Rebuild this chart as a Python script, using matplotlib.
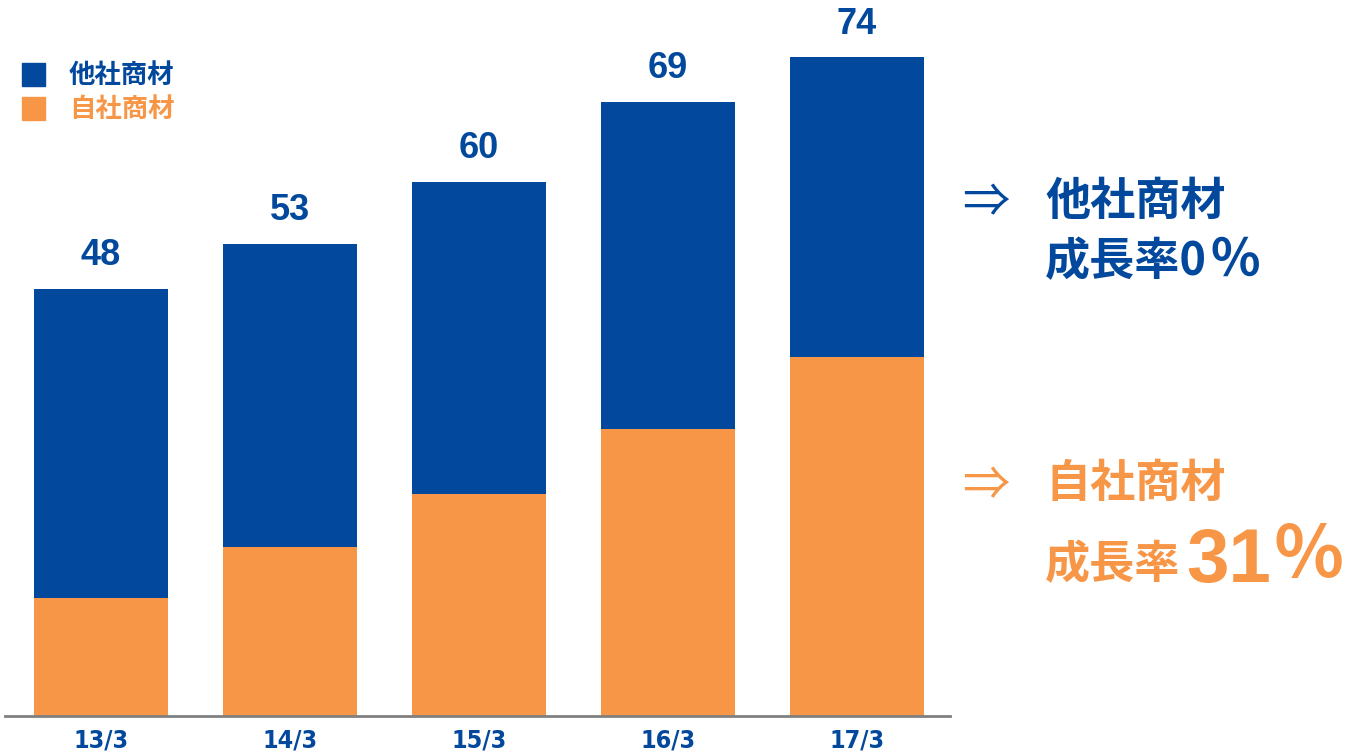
import matplotlib.pyplot as plt
from matplotlib.patches import Rectangle
import numpy as np

# sales by fiscal year end (13/3 .. 17/3)
years = ['13/3', '14/3', '15/3', '16/3', '17/3']
total = [48, 53, 60, 69, 74]
own = [13.3, 19.0, 24.9, 32.2, 40.3]          # 自社商材
other = [t - o for t, o in zip(total, own)]   # 他社商材

blue = '#02489c'
orange = '#f79646'
cjk = ['Noto Sans CJK JP', 'DejaVu Sans']

W, H = 1345, 754
fig = plt.figure(figsize=(W / 100, H / 100), dpi=100)
ax = fig.add_axes([5 / W, (H - 716) / H, 945 / W, 716 / H])

x = np.arange(len(years))
ax.bar(x, own, width=0.714, color=orange, zorder=2)
ax.bar(x, other, width=0.714, bottom=own, color=blue, zorder=2)

for xi, t in zip(x, total):
    ax.annotate(str(t), (xi, t), xytext=(0, 24), textcoords='offset points',
                ha='center', va='center', fontsize=26, fontweight='bold',
                color=blue, family='Liberation Sans')

ax.set_xlim(-0.508, 4.492)
ax.set_ylim(0, 80.45)
ax.set_xticks(x)
ax.set_xticklabels(years, fontsize=18, fontweight='bold', color=blue,
                   family='DejaVu Sans', fontstretch='condensed')
ax.tick_params(axis='x', length=0, pad=9)
ax.set_yticks([])
for s in ['top', 'right', 'left']:
    ax.spines[s].set_visible(False)
ax.spines['bottom'].set_color('#808080')
ax.spines['bottom'].set_linewidth(2)


def px(xp, yp):
    return xp / W, 1 - yp / H


# legend
for yp, col, lab in [(63, blue, '他社商材'), (97, orange, '自社商材')]:
    fig.patches.append(Rectangle(px(22, yp + 23), 23 / W, 23 / H,
                                 transform=fig.transFigure, color=col))
    fig.text(*px(69, yp + 12), lab, color=col, fontsize=19,
             fontweight='bold', family=cjk, ha='left', va='center')

# growth notes
fig.text(*px(962, 204), '⇒', color=blue, fontsize=34, family=cjk,
         ha='left', va='center')
fig.text(*px(1045, 202), '他社商材', color=blue, fontsize=32.5,
         fontweight='bold', family=cjk, ha='left', va='center')
fig.text(*px(1045, 275), '成長率0', color=blue, fontsize=32.5,
         fontweight='bold', family=cjk, ha='left', va='baseline')
fig.text(*px(1209, 276), '％', color=blue, fontsize=37,
         fontweight='bold', family=cjk, ha='left', va='baseline')

fig.text(*px(962, 487), '⇒', color=orange, fontsize=34, family=cjk,
         ha='left', va='center')
fig.text(*px(1045, 484), '自社商材', color=orange, fontsize=32.5,
         fontweight='bold', family=cjk, ha='left', va='center')
fig.text(*px(1045, 578), '成長率', color=orange, fontsize=32.5,
         fontweight='bold', family=cjk, ha='left', va='baseline')
fig.text(*px(1186, 582), '31', color=orange, fontsize=55,
         fontweight='bold', family='Liberation Sans', ha='left', va='baseline')
fig.text(*px(1272, 578), '％', color=orange, fontsize=52,
         fontweight='bold', family=cjk, ha='left', va='baseline')

fig.savefig('out.png', dpi=100)
